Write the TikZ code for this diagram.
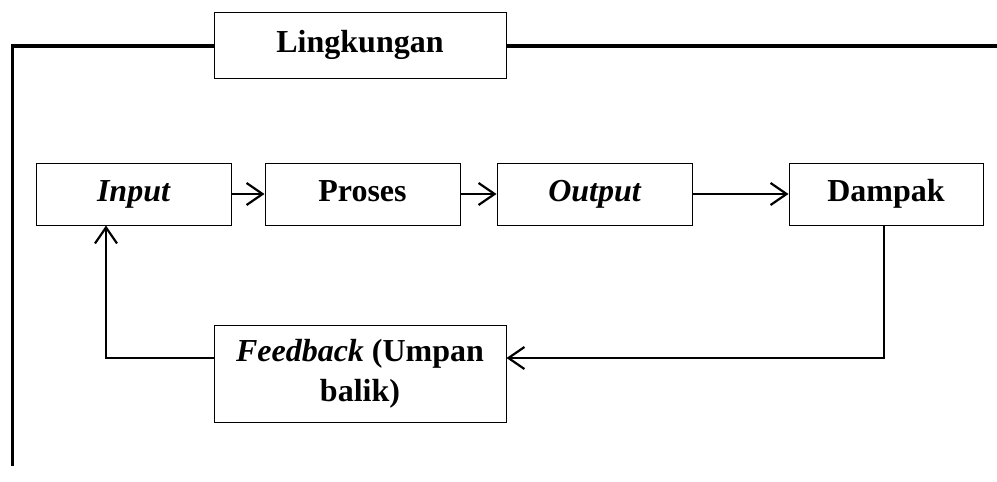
\documentclass[tikz,border=0pt]{standalone}
\usepackage{fontspec}
\setmainfont{Liberation Serif}
\usetikzlibrary{arrows.meta}
\tikzset{
  blk/.style={draw, line width=1pt, minimum height=62pt, inner sep=0pt, font=\fontsize{32}{40}\selectfont\bfseries, align=center},
  one/.style={text height=21pt, text depth=7pt},
  conn/.style={line width=2.4pt, -{Straight Barb[length=16pt,width=22pt,line width=2.2pt]}},
  frame/.style={line width=3.4pt}
}
\begin{document}
\begin{tikzpicture}[x=1pt,y=-1pt]
\useasboundingbox (0,0) rectangle (997,482);
\node[blk, one, minimum width=292pt, minimum height=66pt] (ling) at (360,45) {Lingkungan};
\node[blk, one, minimum width=195pt] (input) at (133.5,194) {\itshape Input};
\node[blk, one, minimum width=195pt] (proses) at (362.5,194) {Proses};
\node[blk, one, minimum width=195pt] (output) at (594.5,194) {\itshape Output};
\node[blk, one, minimum width=194pt] (dampak) at (886,194) {Dampak};
\node[blk, minimum width=292pt, minimum height=97pt] (fb) at (360,373.5) {\textit{Feedback} (Umpan\\balik)};
\coordinate (fbl) at (12.5,466);
\coordinate (fbr) at (997,46);
\draw[frame] (fbl) |- ([yshift=-1pt]ling.west);
\draw[frame] ([yshift=-1pt]ling.east) -- (fbr);
\draw[conn] (input) -- (proses);
\draw[conn] (proses) -- (output);
\draw[conn] (output) -- (dampak);
\draw[conn] ([xshift=-2pt]dampak.south) |- ([yshift=15.5pt]fb.east);
\draw[conn] ([yshift=15.5pt]fb.west) -| ([xshift=-27.5pt]input.south);
\end{tikzpicture}
\end{document}
